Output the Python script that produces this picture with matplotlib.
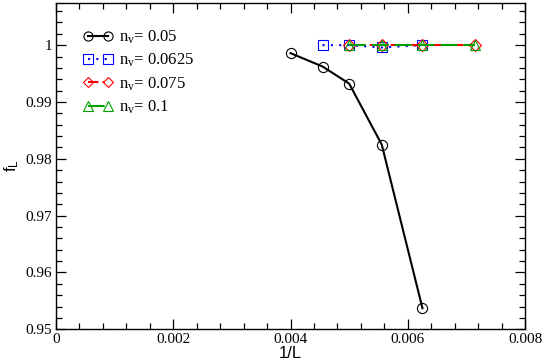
import matplotlib
matplotlib.use("Agg")
from matplotlib import pyplot as plt
from matplotlib.ticker import MultipleLocator

# 1/L values and f_L for each vacancy density n_v
x_005 = [1/250, 1/220, 1/200, 1/180, 1/160]
f_005 = [0.99859, 0.99624, 0.99323, 0.98251, 0.95371]

x_0625 = [1/220, 1/200, 1/180, 1/160]
f_0625 = [1.0, 1.0, 0.99959, 1.0]

x_075 = [1/200, 1/180, 1/160, 1/140]
f_075 = [0.99995, 0.99995, 0.99995, 0.99995]

x_01 = [1/200, 1/180, 1/160, 1/140]
f_01 = [1.0, 1.0, 1.0, 1.0]

labels = [r"n$_\mathregular{v}$= 0.05", r"n$_\mathregular{v}$= 0.0625",
          r"n$_\mathregular{v}$= 0.075", r"n$_\mathregular{v}$= 0.1"]
xticks = [0, 0.002, 0.004, 0.006, 0.008]
xticklabels = ["0", "0.002", "0.004", "0.006", "0.008"]
yticks = [0.95, 0.96, 0.97, 0.98, 0.99, 1.0]
yticklabels = ["0.95", "0.96", "0.97", "0.98", "0.99", "1"]

plt.rcParams['mathtext.fontset'] = 'custom'
plt.rcParams['mathtext.rm'] = 'Liberation Serif'
plt.rcParams['mathtext.it'] = 'Liberation Serif'

fig = plt.figure(figsize=(5.45, 3.64), dpi=100)
ax = fig.add_axes([0.1028, 0.0953, 0.8606, 0.8978])

ms = 7.3
ax.plot(x_005, f_005, color="black", lw=1.5, marker="o", ms=ms,
        mfc="none", mew=0.8, label=labels[0])
ax.plot(x_0625, f_0625, color="blue", lw=1.5, ls=(0, (1, 3)), marker="s",
        ms=ms, mfc="none", mew=0.8, label=labels[1])
ax.plot(x_075, f_075, color="red", lw=1.5, ls=(0, (5, 2, 1, 2)), marker="D",
        ms=ms * 0.85, mfc="none", mew=0.8, label=labels[2])
ax.plot(x_01, f_01, color="#00a000", lw=1.5, ls=(0, (8, 3)), marker="^",
        ms=ms, mfc="none", mew=0.8, label=labels[3])

ax.set_xlim(0, 0.008)
ax.set_ylim(0.95, 1.0075)
ax.set_xticks(xticks)
ax.set_xticklabels(xticklabels)
ax.set_yticks(yticks)
ax.set_yticklabels(yticklabels)
ax.xaxis.set_minor_locator(MultipleLocator(0.0004))
ax.yaxis.set_minor_locator(MultipleLocator(0.002))

ax.tick_params(which="both", direction="in", top=True, right=True,
               labelsize=11, pad=3)
ax.tick_params(which="major", length=7, width=0.9)
ax.tick_params(which="minor", length=4, width=0.9)
for lab in ax.get_xticklabels() + ax.get_yticklabels():
    lab.set_family("Liberation Serif")
for sp in ax.spines.values():
    sp.set_linewidth(1.0)

ax.set_xlabel("1/L", family="Liberation Sans", fontsize=12, labelpad=0)
ax.set_ylabel(r"f$_\mathregular{L}$", family="Liberation Sans", fontsize=12,
              labelpad=3)

leg = ax.legend(loc="upper left", bbox_to_anchor=(0.043, 0.94), frameon=False,
                prop={"family": "Liberation Serif", "size": 12},
                handlelength=1.8, handletextpad=0.35, labelspacing=0.35,
                numpoints=2, borderaxespad=0, markerscale=0.9)

fig.savefig("out.png", dpi=100)
